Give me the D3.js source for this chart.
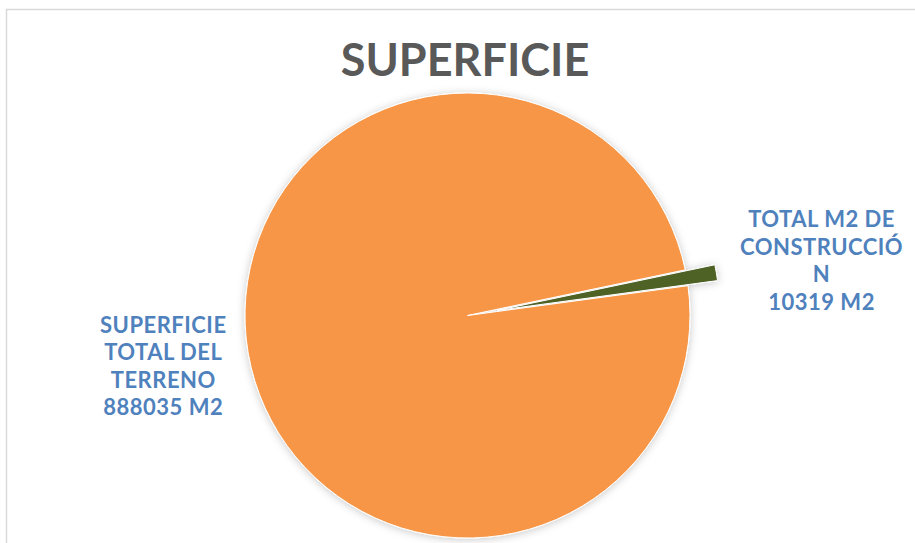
<!DOCTYPE html>
<html>
<head>
<meta charset="utf-8">
<script src="https://cdn.jsdelivr.net/npm/d3@7"></script>
<style>
  html, body { margin: 0; padding: 0; background: #fff; }
  #chart { width: 915px; height: 543px; }
</style>
</head>
<body>
<div id="chart"></div>
<script>
// data
var categories = ["SUPERFICIE TOTAL DEL TERRENO", "TOTAL M2 DE CONSTRUCCIÓN"];
var values = [888035, 10319];
var labelLines = [
  ["SUPERFICIE", "TOTAL DEL", "TERRENO", "888035 M2"],
  ["TOTAL M2 DE", "CONSTRUCCIÓ", "N", "10319 M2"]
];
var colors = ["#F79646", "#4F6228"];
var explode = [0, 30];
var title = "SUPERFICIE";

var width = 915,
  height = 543,
  cx = 467.5,
  cy = 315.5,
  radius = 222.5,
  firstAngle = 82.3; // degrees, Excel "angle of first slice"

var svg = d3.select("#chart").append("svg")
  .attr("width", width)
  .attr("height", height);

var defs = svg.append("defs");
var shadow = defs.append("filter")
  .attr("id", "shadow")
  .attr("x", "-20%").attr("y", "-20%")
  .attr("width", "140%").attr("height", "140%");
shadow.append("feDropShadow")
  .attr("dx", 0).attr("dy", 1)
  .attr("stdDeviation", 4)
  .attr("flood-color", "#000")
  .attr("flood-opacity", 0.22);

// chart area border
svg.append("rect")
  .attr("x", 6.5)
  .attr("y", 9.5)
  .attr("width", width + 20)
  .attr("height", height + 20)
  .attr("fill", "#fff")
  .attr("stroke", "#d9d9d9")
  .attr("stroke-width", 1.5);

svg.append("text")
  .attr("x", 465)
  .attr("y", 76)
  .attr("text-anchor", "middle")
  .attr("font-family", "Lato, 'Open Sans', sans-serif")
  .attr("font-weight", "bold")
  .attr("font-size", 45)
  .attr("fill", "#595959")
  .text(title);

var a0 = firstAngle * Math.PI / 180;
var pie = d3.pie()
  .sort(null)
  .startAngle(a0)
  .endAngle(a0 + 2 * Math.PI);

var arc = d3.arc()
  .innerRadius(0)
  .outerRadius(radius);

var arcs = pie(values);

function offset(d, i) {
  var mid = (d.startAngle + d.endAngle) / 2;
  return [explode[i] * Math.sin(mid), -explode[i] * Math.cos(mid)];
}

var g = svg.append("g")
  .attr("transform", "translate(" + cx + "," + cy + ")")
  .attr("filter", "url(#shadow)");

g.selectAll("path")
  .data(arcs)
  .enter().append("path")
    .attr("transform", function (d, i) {
      var o = offset(d, i);
      return "translate(" + o[0] + "," + o[1] + ")";
    })
    .attr("d", arc)
    .attr("fill", function (d, i) { return colors[i]; })
    .attr("stroke", "#fff")
    .attr("stroke-width", 1);

// data labels, outside end
var lineHeight = 27.5;
var labelGap = [22, 24];
var labelShift = [17, 0];

var labels = svg.append("g")
  .attr("font-family", "Lato, 'Open Sans', sans-serif")
  .attr("font-weight", "bold")
  .attr("font-size", 22)
  .attr("letter-spacing", 0.5)
  .attr("fill", "#4F81BD");

arcs.forEach(function (d, i) {
  var mid = (d.startAngle + d.endAngle) / 2;
  var o = offset(d, i);
  var r = radius + labelGap[i];
  var px = cx + o[0] + r * Math.sin(mid);
  var py = cy + o[1] - r * Math.cos(mid) + labelShift[i];
  var left = px < cx;

  var t = labels.append("text")
    .attr("text-anchor", "middle");
  var lines = labelLines[i];
  lines.forEach(function (line, k) {
    t.append("tspan")
      .attr("x", 0)
      .attr("y", (k - (lines.length - 1) / 2) * lineHeight)
      .text(line);
  });
  var w = t.node().getBBox().width;
  var x = left ? px - w / 2 : px + w / 2;
  t.attr("transform", "translate(" + x + "," + py + ")");
});
</script>
</body>
</html>
